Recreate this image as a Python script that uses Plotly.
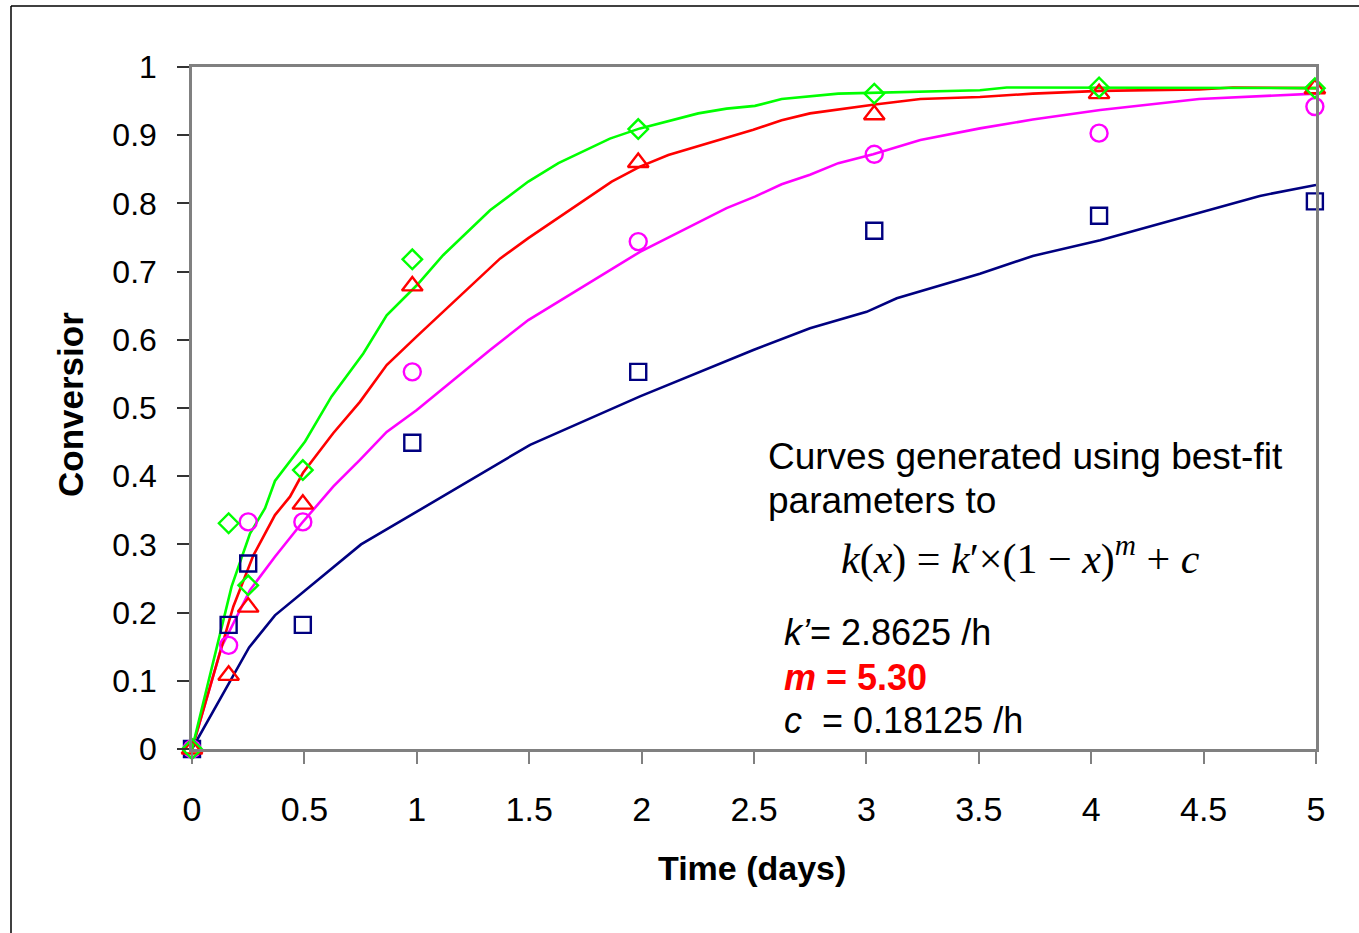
import plotly.graph_objects as go

# ---------------- data ----------------
time_obs = [0, 0.163, 0.25, 0.493, 0.98, 1.985, 3.035, 4.035, 4.995]
navy_obs = [0, 0.182, 0.272, 0.182, 0.449, 0.553, 0.760, 0.782, 0.803]
magenta_obs = [0, 0.152, 0.333, 0.333, 0.553, 0.744, 0.872, 0.903, 0.942]
red_obs = [0, 0.108, 0.208, 0.359, 0.679, 0.860, 0.930, 0.961, 0.968]
green_obs = [0, 0.331, 0.240, 0.409, 0.718, 0.909, 0.961, 0.970, 0.969]

navy_fit_t = [0, 0.254, 0.369, 0.752, 1.0, 1.237, 1.504, 1.993, 2.497, 2.749, 3.001,
              3.135, 3.505, 3.74, 4.04, 4.75, 5.0]
navy_fit = [0, 0.149, 0.196, 0.300, 0.348, 0.394, 0.446, 0.517, 0.585, 0.617, 0.641,
            0.661, 0.697, 0.723, 0.746, 0.811, 0.827]

magenta_fit_t = [0, 0.132, 0.258, 0.369, 0.488, 0.629, 0.747, 0.866, 1.0, 1.326, 1.496,
                 1.993, 2.378, 2.504, 2.623, 2.749, 2.875, 3.03, 3.24, 3.505, 3.74,
                 4.04, 4.48, 5.0]
magenta_fit = [0, 0.150, 0.233, 0.282, 0.331, 0.385, 0.424, 0.465, 0.497, 0.585, 0.629,
               0.729, 0.793, 0.810, 0.828, 0.842, 0.859, 0.872, 0.893, 0.910, 0.923,
               0.937, 0.953, 0.961]

red_fit_t = [0, 0.184, 0.273, 0.369, 0.436, 0.494, 0.628, 0.747, 0.866, 1.0, 1.37,
             1.496, 1.867, 1.993, 2.119, 2.497, 2.623, 2.749, 3.038, 3.24, 3.505,
             3.74, 4.04, 4.48, 4.63, 5.0]
red_fit = [0, 0.209, 0.284, 0.343, 0.370, 0.405, 0.463, 0.509, 0.563, 0.605, 0.719,
           0.749, 0.832, 0.854, 0.871, 0.908, 0.922, 0.932, 0.945, 0.953, 0.956,
           0.961, 0.965, 0.967, 0.970, 0.969]

green_fit_t = [0, 0.176, 0.258, 0.325, 0.369, 0.503, 0.621, 0.762, 0.866, 1.0, 1.117,
               1.326, 1.496, 1.63, 1.859, 1.993, 2.252, 2.378, 2.504, 2.623, 2.875,
               3.15, 3.505, 3.624, 4.217, 5.0]
green_fit = [0, 0.238, 0.316, 0.353, 0.393, 0.451, 0.517, 0.580, 0.636, 0.680, 0.724,
             0.790, 0.832, 0.859, 0.895, 0.910, 0.932, 0.939, 0.943, 0.953, 0.961,
             0.963, 0.966, 0.970, 0.970, 0.969]

x_ticks = [0, 0.5, 1, 1.5, 2, 2.5, 3, 3.5, 4, 4.5, 5]
x_ticktext = ["0", "0.5", "1", "1.5", "2", "2.5", "3", "3.5", "4", "4.5", "5"]
y_ticks = [0, 0.1, 0.2, 0.3, 0.4, 0.5, 0.6, 0.7, 0.8, 0.9, 1]
y_ticktext = ["0", "0.1", "0.2", "0.3", "0.4", "0.5", "0.6", "0.7", "0.8", "0.9", "1"]

NAVY = "#000080"
MAGENTA = "#FF00FF"
RED = "#FF0000"
GREEN = "#00FF00"
SANS = "Liberation Sans, Arial, sans-serif"
SERIF = "Liberation Serif, Times New Roman, serif"

fig = go.Figure()

for t, y, c in [(navy_fit_t, navy_fit, NAVY), (magenta_fit_t, magenta_fit, MAGENTA),
                (red_fit_t, red_fit, RED), (green_fit_t, green_fit, GREEN)]:
    fig.add_trace(go.Scatter(x=t, y=y, mode="lines", line=dict(color=c, width=2.6),
                             showlegend=False, cliponaxis=False, hoverinfo="skip"))

for y, c, sym, sz in [(navy_obs, NAVY, "square-open", 16),
                      (magenta_obs, MAGENTA, "circle-open", 17),
                      (red_obs, RED, "triangle-up-open", 18),
                      (green_obs, GREEN, "diamond-open", 15)]:
    fig.add_trace(go.Scatter(x=time_obs, y=y, mode="markers",
                             marker=dict(symbol=sym, size=sz, color=c,
                                         line=dict(color=c, width=2.4)),
                             showlegend=False, cliponaxis=False))

OFF = 0  # page margin removed through post_script below
L, R, T, B = 192 - OFF, 1316 - OFF, 67 - OFF, 749 - OFF
W, H = 1359 - OFF, 933 - OFF


def px(xp):
    return (xp - OFF - L) / (R - L)


def py(yp):
    return (B - (yp - OFF)) / (B - T)


annotations = [
    dict(x=px(70), y=py(405), text="<b>Conversior</b>", textangle=-90,
         font=dict(family=SANS, size=35, color="black")),
    dict(x=px(752), y=py(868), text="<b>Time (days)</b>",
         font=dict(family=SANS, size=34, color="black")),
    dict(x=px(766), y=py(457), text="Curves generated using best-fit", xanchor="left",
         font=dict(family=SANS, size=37, color="black")),
    dict(x=px(766), y=py(500), text="parameters to", xanchor="left",
         font=dict(family=SANS, size=37, color="black")),
    dict(x=px(1020), y=py(556),
         text="<i>k</i>(<i>x</i>) = <i>k</i>\u2032\u00d7(1 \u2212 <i>x</i>)<sup><i>m</i></sup> + <i>c</i>",
         font=dict(family=SERIF, size=42, color="black")),
    dict(x=px(782), y=py(632), text="<i>k\u2019</i>= 2.8625 /h", xanchor="left",
         font=dict(family=SANS, size=36, color="black")),
    dict(x=px(782), y=py(677), text="<b><i>m</i> = 5.30</b>", xanchor="left",
         font=dict(family=SANS, size=36, color=RED)),
    dict(x=px(782), y=py(720), text="<i>c</i>\u00a0 = 0.18125 /h", xanchor="left",
         font=dict(family=SANS, size=36, color="black")),
]
for a in annotations:
    a.setdefault("xanchor", "center")
    a.update(xref="paper", yref="paper", showarrow=False, yanchor="middle")

shapes = [
    dict(type="line", xref="paper", yref="paper", x0=px(11), x1=px(11),
         y0=py(960), y1=py(6), line=dict(color="black", width=1.5)),
    dict(type="line", xref="paper", yref="paper", x0=px(11), x1=px(1380),
         y0=py(6), y1=py(6), line=dict(color="black", width=1.5)),
]

fig.update_layout(
    width=W, height=H,
    margin=dict(l=L, r=W - R, t=T, b=H - B, pad=0),
    paper_bgcolor="white", plot_bgcolor="white",
    showlegend=False,
    annotations=annotations,
    shapes=shapes,
    xaxis=dict(range=[0, 5], tickvals=x_ticks, ticktext=x_ticktext,
               showgrid=False, zeroline=False, showline=True, linecolor="#808080",
               linewidth=2.5, mirror=True, ticks="outside", ticklen=12,
               tickwidth=2, tickcolor="#808080", ticklabelstandoff=16,
               tickfont=dict(family=SANS, size=34, color="black")),
    yaxis=dict(range=[0, 1], tickvals=y_ticks, ticktext=y_ticktext,
               showgrid=False, zeroline=False, showline=True, linecolor="#808080",
               linewidth=2.5, mirror=True, ticks="outside", ticklen=12,
               tickwidth=1.5, tickcolor="#333333", ticklabelstandoff=14,
               tickfont=dict(family=SANS, size=32, color="black")),
)

fig.write_html("out.html", config={"displayModeBar": False},
               post_script="document.body.style.margin='0px';document.body.style.overflow='hidden';")
